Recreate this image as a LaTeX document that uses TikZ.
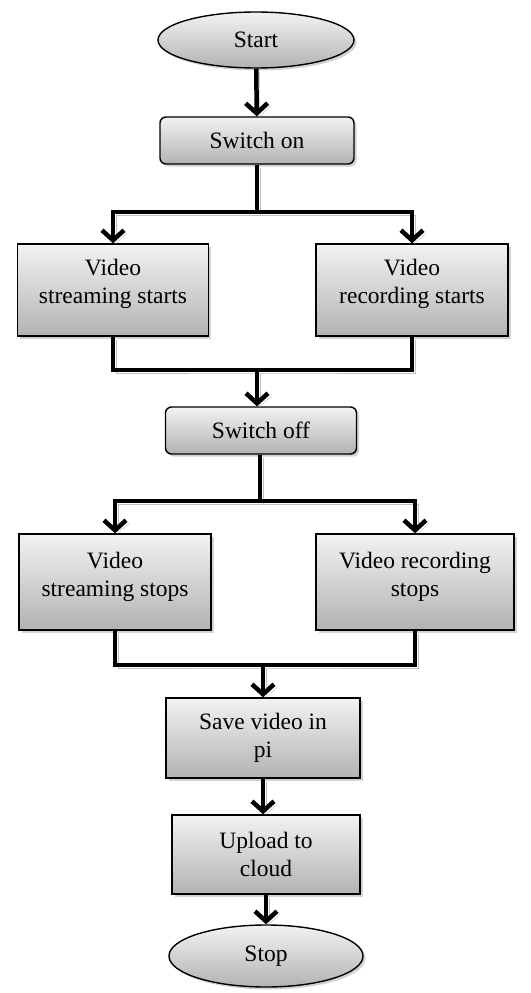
\documentclass[tikz,border=0pt]{standalone}
\usepackage{fontspec}
\setmainfont{Liberation Serif}
\usetikzlibrary{arrows.meta,shapes.geometric,shadows}
\tikzset{>={Straight Barb[length=10pt,width=22pt]}}
\tikzset{
  shade/.style={top color=black!5, bottom color=black!30, draw, line width=1.4pt,
    drop shadow={shadow xshift=2.5pt, shadow yshift=-2.5pt, fill=black!35}},
  term/.style={shade, ellipse, inner sep=0pt, font=\fontsize{23.5}{28}\selectfont},
  rbox/.style={shade, rectangle, rounded corners=6pt, inner sep=0pt, font=\fontsize{23.5}{28}\selectfont},
  box/.style={shade, rectangle, inner sep=0pt, align=center, font=\fontsize{23.5}{28}\selectfont},
  line/.style={line width=4.5pt, preaction={draw=black!25, transform canvas={xshift=3pt, yshift=-3pt}}},
  arrow/.style={line, ->},
}

\begin{document}
\begin{tikzpicture}[x=1pt, y=-1pt]
\useasboundingbox (0,0) rectangle (530,993);

\node[term, minimum width=196pt, minimum height=56pt] (start) at (256,40) {Start};
\node[rbox, minimum width=194pt, minimum height=47pt] (swon) at (257,140.5) {Switch on};
\node[box, minimum width=191pt, minimum height=92pt] (vss) at (113,290) {Video\\streaming starts\\[-10pt]};
\node[box, minimum width=192pt, minimum height=92pt] (vrs) at (412,290) {Video\\recording starts\\[-10pt]};
\node[rbox, minimum width=191pt, minimum height=47pt] (swoff) at (261,430.5) {Switch off};
\node[box, minimum width=192pt, minimum height=96pt] (vsp) at (115,582) {Video\\streaming stops\\[-12pt]};
\node[box, minimum width=198pt, minimum height=96pt] (vrp) at (415,582) {Video recording\\stops\\[-12pt]};
\node[box, minimum width=194pt, minimum height=80pt] (save) at (263,738) {Save video in\\pi};
\node[box, minimum width=188pt, minimum height=79pt] (upload) at (266,854.5) {Upload to\\cloud};
\node[term, minimum width=194pt, minimum height=62pt] (stop) at (266,956) {Stop};

% junctions of the forks and joins
\coordinate (j1) at (257,212);
\coordinate (j2) at (257,370);
\coordinate (j3) at (260,501);
\coordinate (j4) at (263,665);

\draw[arrow] (start) -- (swon);

\draw[line] (swon.south) -- (j1);
\draw[arrow] (j1) -| (vss);
\draw[arrow] (j1) -| (vrs);

\draw[line] (vss.south) |- (j2) -| (vrs.south);
\draw[arrow] (j2) -- (swon |- swoff.north);

\draw[line] (swoff.south -| j3) -- (j3);
\draw[arrow] (j3) -| (vsp);
\draw[arrow] (j3) -| (vrp);

\draw[line] (vsp.south) |- (j4) -| (vrp.south);
\draw[arrow] (j4) -- (save);

\draw[arrow] (save) -- (save |- upload.north);
\draw[arrow] (upload) -- (stop);
\end{tikzpicture}
\end{document}
